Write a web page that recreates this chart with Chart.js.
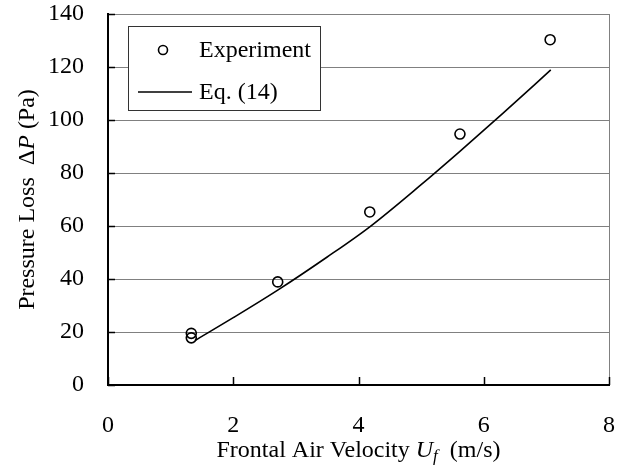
<!DOCTYPE html>
<html>
<head>
<meta charset="utf-8">
<script src="https://cdn.jsdelivr.net/npm/chart.js@4.4.1/dist/chart.umd.min.js"></script>
<style>
  html, body { margin: 0; padding: 0; background: #fff; }
</style>
</head>
<body>
<canvas id="lossChart" width="626" height="468"></canvas>
<script>
// Measured pressure loss vs frontal velocity
const expVelocity = [1.33, 1.33, 2.71, 4.18, 5.62, 7.06];
const expPressure = [19.5, 17.8, 38.9, 65.3, 94.7, 130.3];

// Eq. (14) curve
const eqVelocity = [1.39, 2.0, 2.71, 3.5, 4.18, 5.0, 5.61, 6.3, 7.07];
const eqPressure = [16.8, 25.4, 35.8, 48.3, 59.7, 75.6, 88.0, 102.4, 118.9];

const xTicks = [0, 2, 4, 6, 8];
const yTicks = [0, 20, 40, 60, 80, 100, 120, 140];

const FONT = '"Liberation Serif", "Times New Roman", serif';
const FONT_SIZE = 24;

function toPoints(xs, ys) {
    return xs.map((x, i) => ({ x: x, y: ys[i] }));
}

// keep the plot area fixed regardless of label overhang
function noPad(s) {
    s.paddingLeft = 0;
    s.paddingRight = 0;
    s.paddingTop = 0;
    s.paddingBottom = 0;
}

// frame, inside tick marks, axis titles and the boxed legend
const decorations = {
    id: 'decorations',
    afterDatasetsDraw(chart) {
        const ctx = chart.ctx;
        const area = chart.chartArea;
        const xs = chart.scales.x;
        const ys = chart.scales.y;

        ctx.save();
        // gray right edge
        ctx.strokeStyle = '#808080';
        ctx.lineWidth = 1;
        ctx.beginPath();
        ctx.moveTo(area.right + 0.5, area.top);
        ctx.lineTo(area.right + 0.5, area.bottom);
        ctx.stroke();

        // inward tick marks
        ctx.strokeStyle = '#000';
        ctx.lineWidth = 1.5;
        ctx.beginPath();
        xTicks.forEach(v => {
            const px = Math.round(xs.getPixelForValue(v)) + 0.5;
            ctx.moveTo(px, area.bottom);
            ctx.lineTo(px, area.bottom - 8);
        });
        yTicks.forEach(v => {
            const py = Math.round(ys.getPixelForValue(v)) + 0.5;
            ctx.moveTo(area.left, py);
            ctx.lineTo(area.left + 7, py);
        });
        ctx.stroke();

        // legend box
        const lx = 128.5, ly = 26.5, lw = 192, lh = 84;
        ctx.fillStyle = '#fff';
        ctx.fillRect(lx, ly, lw, lh);
        ctx.strokeStyle = '#333';
        ctx.lineWidth = 1;
        ctx.strokeRect(lx, ly, lw, lh);

        const ds = chart.data.datasets;
        ctx.font = FONT_SIZE + 'px ' + FONT;
        ctx.fillStyle = '#000';
        ctx.textBaseline = 'middle';
        ctx.textAlign = 'left';

        ctx.beginPath();
        ctx.arc(163, 50, 4.5, 0, Math.PI * 2);
        ctx.lineWidth = 1.6;
        ctx.strokeStyle = '#000';
        ctx.stroke();
        ctx.fillText(ds[0].label, 199, 51);

        ctx.beginPath();
        ctx.moveTo(138, 92);
        ctx.lineTo(192, 92);
        ctx.lineWidth = 1.5;
        ctx.stroke();
        ctx.fillText(ds[1].label, 199, 93);

        // axis titles with italic symbols
        const normal = FONT_SIZE + 'px ' + FONT;
        const italic = 'italic ' + FONT_SIZE + 'px ' + FONT;
        const sub = 'italic 17px ' + FONT;

        function drawRuns(runs, cx, baseline) {
            let total = 0;
            runs.forEach(r => { ctx.font = r.font; total += ctx.measureText(r.text).width; });
            let x = cx - total / 2;
            ctx.textAlign = 'left';
            ctx.textBaseline = 'alphabetic';
            runs.forEach(r => {
                ctx.font = r.font;
                ctx.fillText(r.text, x, baseline + (r.dy || 0));
                x += ctx.measureText(r.text).width;
            });
        }

        drawRuns([
            { text: 'Frontal Air Velocity ', font: normal },
            { text: 'U', font: italic },
            { text: 'f', font: sub, dy: 4 },
            { text: '  (m/s)', font: normal }
        ], (area.left + area.right) / 2, 457);

        ctx.translate(34, (area.top + area.bottom) / 2);
        ctx.rotate(-Math.PI / 2);
        drawRuns([
            { text: 'Pressure Loss  \u0394', font: normal },
            { text: 'P', font: italic },
            { text: ' (Pa)', font: normal }
        ], 0, 0);
        ctx.restore();
    }
};

new Chart(document.getElementById('lossChart'), {
    type: 'scatter',
    data: {
        datasets: [
            {
                label: 'Experiment',
                data: toPoints(expVelocity, expPressure),
                pointStyle: 'circle',
                pointRadius: 5,
                pointBorderWidth: 1.6,
                pointBorderColor: '#000',
                pointBackgroundColor: 'rgba(0,0,0,0)',
                showLine: false,
                order: 0
            },
            {
                label: 'Eq. (14)',
                data: toPoints(eqVelocity, eqPressure),
                showLine: true,
                borderColor: '#000',
                borderWidth: 1.6,
                pointRadius: 0,
                cubicInterpolationMode: 'monotone',
                order: 1
            }
        ]
    },
    options: {
        responsive: false,
        animation: false,
        layout: { padding: { top: 14, right: 17, left: 0, bottom: 0 } },
        plugins: {
            legend: { display: false },
            tooltip: { enabled: false }
        },
        scales: {
            x: {
                type: 'linear',
                min: 0,
                max: 8,
                afterBuildTicks: s => { s.ticks = xTicks.map(v => ({ value: v })); },
                afterFit: s => { s.height = 83; noPad(s); },
                grid: { display: false, drawTicks: false },
                border: { display: true, color: '#000', width: 2 },
                ticks: {
                    padding: 26,
                    color: '#000',
                    maxRotation: 0,
                    font: { family: FONT, size: FONT_SIZE }
                }
            },
            y: {
                type: 'linear',
                min: 0,
                max: 140,
                afterBuildTicks: s => { s.ticks = yTicks.map(v => ({ value: v })); },
                afterFit: s => { s.width = 108; noPad(s); },
                grid: { color: '#808080', lineWidth: 1, drawTicks: false },
                border: { display: true, color: '#000', width: 2 },
                ticks: {
                    padding: 24,
                    color: '#000',
                    font: { family: FONT, size: FONT_SIZE }
                }
            }
        }
    },
    plugins: [decorations]
});
</script>
</body>
</html>
